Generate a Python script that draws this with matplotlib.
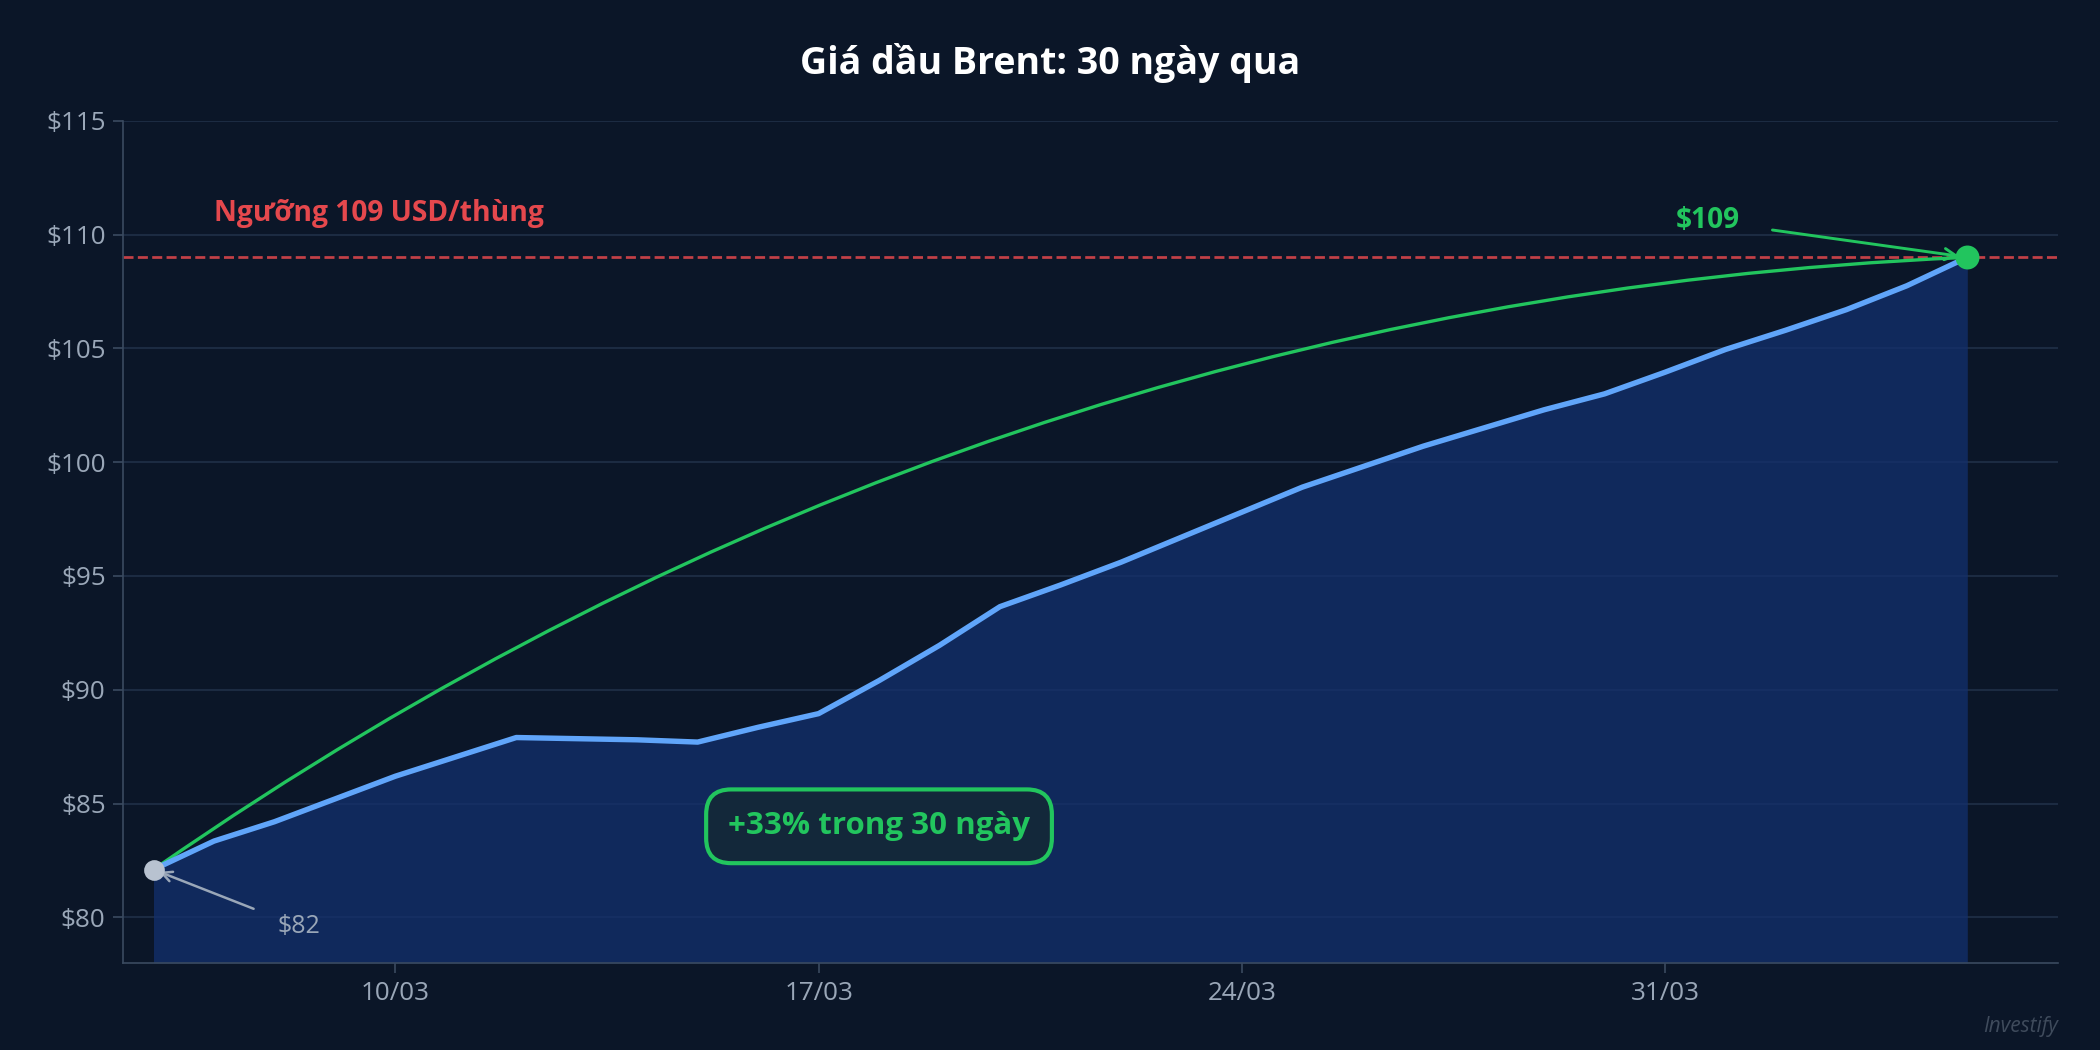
import datetime as dt

import matplotlib
matplotlib.use("Agg")
import matplotlib.pyplot as plt

plt.rcParams["font.family"] = ["Open Sans", "Noto Sans", "DejaVu Sans"]

start = dt.datetime(2025, 3, 6)
days = [start + dt.timedelta(days=i) for i in range(31)]
prices = [82.1, 83.35, 84.2, 85.2, 86.2, 87.05, 87.9, 87.85, 87.8, 87.7,
          88.35, 88.95, 90.4, 91.95, 93.65, 94.6, 95.6, 96.7, 97.8, 98.9,
          99.8, 100.7, 101.5, 102.3, 103.0, 103.95, 104.95, 105.8, 106.7,
          107.75, 109.0]
threshold = 109
tick_dates = [dt.datetime(2025, 3, 10), dt.datetime(2025, 3, 17),
              dt.datetime(2025, 3, 24), dt.datetime(2025, 3, 31)]
tick_labels = ["10/03", "17/03", "24/03", "31/03"]

BG = "#0b1628"
GRID = "#1c2b42"
TXT = "#9aa7b8"
BLUE = "#60a5fa"
GREEN = "#22c55e"
RED = "#e5484d"

fig = plt.figure(figsize=(14, 7), dpi=150, facecolor=BG)
ax = fig.add_axes([0.0587, 0.083, 0.9213, 0.802])
ax.set_facecolor(BG)

ax.fill_between(days, prices, 78, color="#13306e", alpha=0.75, linewidth=0)
ax.plot(days, prices, color=BLUE, linewidth=2.6, zorder=4)

ax.axhline(threshold, color=RED, linestyle="--", linewidth=1.3, alpha=0.85)
ax.text(days[1], 110.3, "Ngưỡng 109 USD/thùng", color=RED, fontsize=13.5,
        fontweight="bold", va="bottom")

# curved trend arrow
ax.annotate("", xy=(days[-1], prices[-1]), xytext=(days[0], prices[0]),
            arrowprops=dict(arrowstyle="-", color=GREEN, linewidth=1.6,
                            connectionstyle="arc3,rad=-0.145"))

ax.scatter([days[-1]], [prices[-1]], s=110, color=GREEN, zorder=5)
ax.scatter([days[0]], [prices[0]], s=80, color="#b8c2d0", zorder=5)

ax.annotate("$109", xy=(days[-1], prices[-1]), xytext=(days[-5] - dt.timedelta(days=0.3), 110.6),
            color=GREEN, fontsize=13.5, fontweight="bold", ha="center", va="center",
            arrowprops=dict(arrowstyle="->", color=GREEN, linewidth=1.4, shrinkA=14, shrinkB=4))
ax.annotate("$82", xy=(days[0], prices[0]), xytext=(days[2] + dt.timedelta(days=0.4), 79.6),
            color=TXT, fontsize=12, ha="center", va="center",
            arrowprops=dict(arrowstyle="->", color=TXT, linewidth=1.2, shrinkA=10, shrinkB=3))

ax.text(days[12], 84.0, "+33% trong 30 ngày", color=GREEN,
        fontsize=15, fontweight="bold", ha="center", va="center",
        bbox=dict(boxstyle="round,pad=0.7,rounding_size=0.8", facecolor="#13283a",
                  edgecolor=GREEN, linewidth=2))

ax.set_xlim(days[0] - dt.timedelta(days=0.5), days[-1] + dt.timedelta(days=1.5))
ax.set_ylim(78, 115)
ax.set_yticks(range(80, 116, 5))
ax.set_yticklabels([f"${v}" for v in range(80, 116, 5)])
ax.set_xticks(tick_dates)
ax.set_xticklabels(tick_labels)
ax.tick_params(colors=TXT, labelsize=12.5, length=5, color="#3a4a60")
ax.grid(True, axis="y", color=GRID, linewidth=1)
ax.set_axisbelow(True)
for side in ["top", "right"]:
    ax.spines[side].set_visible(False)
for side in ["left", "bottom"]:
    ax.spines[side].set_color("#3a4a60")

fig.text(0.5, 0.94, "Giá dầu Brent: 30 ngày qua", color="white", fontsize=18,
         fontweight="bold", ha="center", va="center")
fig.text(0.98, 0.022, "Investify", color="#3f4b5c", fontsize=10, style="italic",
         ha="right", va="center")

fig.savefig("out.png", dpi=150, facecolor=BG)
